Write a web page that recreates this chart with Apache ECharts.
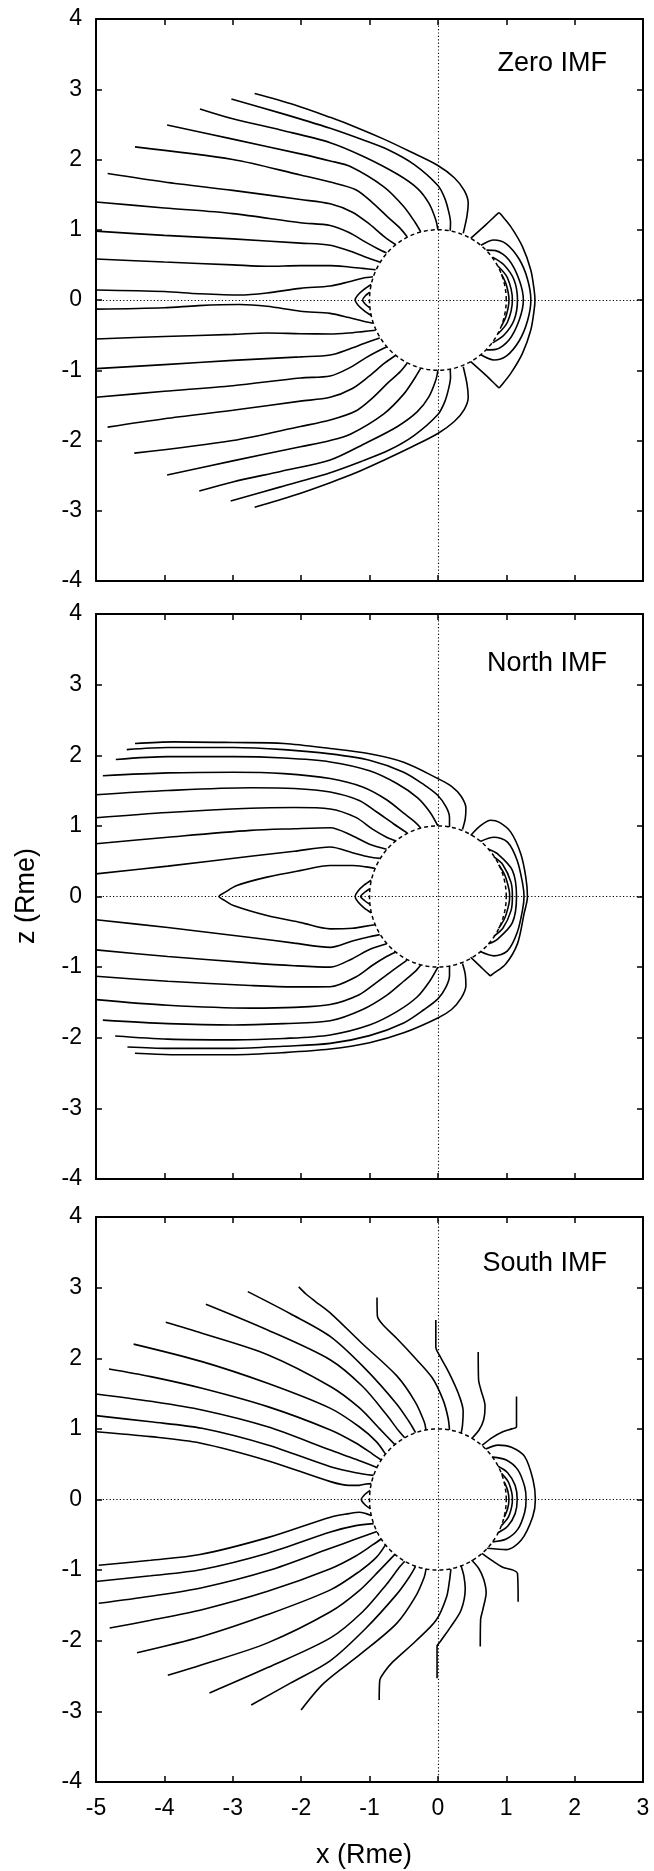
<!DOCTYPE html>
<html>
<head>
<meta charset="utf-8">
<script src="https://cdn.jsdelivr.net/npm/echarts/dist/echarts.min.js"></script>
<style>
  html, body { margin: 0; padding: 0; background: #fff; }
  #chart { width: 654px; height: 1871px; }
</style>
</head>
<body>
<div id="chart"></div>
<script>
// Axis extents and tick labels (Mercury radii)
const xTicks = [-5, -4, -3, -2, -1, 0, 1, 2, 3];
const zTicks = [-4, -3, -2, -1, 0, 1, 2, 3, 4];
const panelTitles = ['Zero IMF', 'North IMF', 'South IMF'];
const planetRadius = 1;

// ---- Zero IMF ----
const zeroTailNorth = [
  [[-2.68,2.94],[-2.1,2.78],[-1.575,2.6],[-1.2,2.46],[-0.79,2.29],[-0.4,2.11],[0,1.915],[0.24,1.74],[0.385,1.56],[0.444,1.38],[0.425,1.19],[0.371,0.95]],
  [[-3.02,2.86],[-2.3,2.66],[-1.575,2.444],[-1.1,2.28],[-0.72,2.135],[-0.35,1.93],[0,1.63],[0.1,1.45],[0.16,1.25],[0.185,1.1],[0.18,0.985]],
  [[-3.48,2.72],[-3.0,2.58],[-2.3,2.42],[-1.575,2.24],[-1.08,2.04],[-0.59,1.79],[-0.3,1.59],[-0.13,1.376],[-0.03,1.14],[0,1.0]],
  [[-3.96,2.49],[-3.0,2.29],[-2.01,2.08],[-1.575,1.98],[-1.28,1.9],[-0.79,1.61],[-0.5,1.33],[-0.33,1.1],[-0.25,0.97]],
  [[-4.43,2.18],[-3.0,2.0],[-2.01,1.78],[-1.575,1.68],[-1.2,1.57],[-0.95,1.38],[-0.72,1.17],[-0.55,1.02],[-0.45,0.9]],
  [[-4.83,1.8],[-4.0,1.68],[-3.0,1.56],[-2.01,1.43],[-1.575,1.37],[-1.25,1.25],[-1.0,1.08],[-0.78,0.9],[-0.62,0.79]],
  [[-5,1.395],[-4,1.31],[-3.0,1.23],[-2.01,1.1],[-1.575,1.06],[-1.3,0.96],[-1.05,0.82],[-0.88,0.73],[-0.75,0.67]],
  [[-5,0.98],[-4,0.92],[-3.0,0.87],[-2.01,0.81],[-1.575,0.78],[-1.3,0.7],[-1.08,0.62],[-0.85,0.54]],
  [[-5,0.584],[-4,0.54],[-3,0.5],[-2.5,0.48],[-2.01,0.49],[-1.575,0.49],[-1.3,0.47],[-1.1,0.45],[-0.91,0.43]],
  [[-5,0.142],[-4,0.12],[-3.5,0.09],[-2.9,0.071],[-2.5,0.1],[-2.01,0.166],[-1.575,0.2],[-1.3,0.26],[-1.1,0.31],[-0.95,0.33]]
];
const zeroTailSouth = [
  [[-2.68,-2.95],[-2.1,-2.78],[-1.575,-2.6],[-1.2,-2.46],[-0.79,-2.28],[-0.4,-2.1],[0,-1.9],[0.24,-1.73],[0.385,-1.56],[0.444,-1.38],[0.425,-1.19],[0.371,-0.95]],
  [[-3.03,-2.86],[-2.3,-2.66],[-1.575,-2.458],[-1.1,-2.29],[-0.72,-2.14],[-0.35,-1.93],[0,-1.63],[0.1,-1.45],[0.16,-1.25],[0.185,-1.1],[0.18,-0.985]],
  [[-3.49,-2.72],[-3.0,-2.59],[-2.3,-2.44],[-1.575,-2.278],[-1.08,-2.05],[-0.59,-1.8],[-0.3,-1.59],[-0.13,-1.376],[-0.03,-1.14],[0,-1.0]],
  [[-3.96,-2.49],[-3.0,-2.29],[-2.01,-2.09],[-1.575,-2.0],[-1.28,-1.91],[-0.79,-1.62],[-0.5,-1.34],[-0.33,-1.1],[-0.25,-0.97]],
  [[-4.44,-2.18],[-3.0,-2.0],[-2.01,-1.8],[-1.575,-1.708],[-1.2,-1.58],[-0.95,-1.39],[-0.72,-1.17],[-0.55,-1.02],[-0.45,-0.9]],
  [[-4.83,-1.81],[-4.0,-1.69],[-3.0,-1.57],[-2.01,-1.44],[-1.575,-1.385],[-1.25,-1.26],[-1.0,-1.08],[-0.78,-0.9],[-0.62,-0.79]],
  [[-5,-1.385],[-4,-1.3],[-3.0,-1.22],[-2.01,-1.11],[-1.575,-1.082],[-1.3,-0.97],[-1.05,-0.82],[-0.88,-0.73],[-0.75,-0.67]],
  [[-5,-0.977],[-4,-0.92],[-3.0,-0.86],[-2.01,-0.81],[-1.575,-0.783],[-1.3,-0.7],[-1.08,-0.62],[-0.85,-0.54]],
  [[-5,-0.555],[-4,-0.52],[-3,-0.49],[-2.5,-0.47],[-2.01,-0.48],[-1.575,-0.484],[-1.3,-0.47],[-1.1,-0.45],[-0.91,-0.43]],
  [[-5,-0.13],[-4,-0.11],[-3.5,-0.08],[-2.9,-0.065],[-2.5,-0.09],[-2.01,-0.16],[-1.575,-0.19],[-1.3,-0.25],[-1.1,-0.3],[-0.95,-0.33]]
];
const zeroDayside = [
  [[0.48,0.878],[0.7,1.07],[0.87,1.225],[0.895,1.243],[0.92,1.22],[1.066,1.044],[1.237,0.759],[1.359,0.427],[1.408,0.142],[1.42,0],[1.408,-0.142],[1.359,-0.427],[1.237,-0.759],[1.066,-1.044],[0.92,-1.225],[0.895,-1.25],[0.87,-1.23],[0.7,-1.07],[0.48,-0.878]],
  [[0.63,0.78],[0.82,0.855],[1.0,0.8],[1.19,0.58],[1.31,0.3],[1.36,0],[1.31,-0.3],[1.19,-0.58],[1.0,-0.8],[0.82,-0.855],[0.63,-0.78]],
  [[0.71,0.71],[0.846,0.703],[1.04,0.57],[1.19,0.285],[1.25,0],[1.19,-0.285],[1.04,-0.57],[0.846,-0.703],[0.71,-0.71]],
  [[0.8,0.61],[0.968,0.498],[1.115,0.285],[1.164,0],[1.115,-0.285],[0.968,-0.498],[0.8,-0.61]],
  [[0.88,0.48],[1.017,0.317],[1.09,0],[1.017,-0.317],[0.88,-0.48]],
  [[0.93,0.37],[1.0,0.22],[1.04,0],[1.0,-0.22],[0.93,-0.37]]
];
const zeroNightLoops = [
  [[-0.975,0.22],[-1.08,0.15],[-1.17,0.07],[-1.21,0],[-1.17,-0.07],[-1.08,-0.15],[-0.975,-0.22]],
  [[-0.995,0.11],[-1.06,0.06],[-1.1,0],[-1.06,-0.06],[-0.995,-0.11]]
];

// ---- North IMF ----
const northTailNorth = [
  [[-4.43,2.166],[-3.87,2.19],[-2.99,2.18],[-2.25,2.166],[-1.575,2.095],[-1.0,2.02],[-0.5,1.9],[0,1.67],[0.2,1.56],[0.34,1.42],[0.41,1.25],[0.4,1.1],[0.36,0.95]],
  [[-4.55,2.08],[-3.95,2.11],[-2.99,2.11],[-2.25,2.08],[-1.575,2.02],[-1.0,1.93],[-0.5,1.76],[-0.2,1.58],[0,1.43],[0.12,1.27],[0.17,1.12],[0.17,0.985]],
  [[-4.71,1.94],[-3.95,1.98],[-2.99,1.98],[-2.25,1.96],[-1.575,1.905],[-1.0,1.78],[-0.6,1.6],[-0.3,1.4],[-0.12,1.2],[0,1.0]],
  [[-4.9,1.71],[-3.95,1.75],[-2.99,1.76],[-2.25,1.74],[-1.575,1.67],[-1.1,1.55],[-0.75,1.37],[-0.5,1.18],[-0.33,1.05],[-0.25,0.97]],
  [[-5,1.44],[-3.95,1.5],[-2.74,1.54],[-2.1,1.53],[-1.575,1.48],[-1.15,1.36],[-0.9,1.2],[-0.65,1.03],[-0.45,0.9]],
  [[-5,1.116],[-3.95,1.19],[-2.74,1.25],[-2.1,1.26],[-1.575,1.24],[-1.2,1.12],[-0.95,0.95],[-0.75,0.84],[-0.62,0.79]],
  [[-5,0.748],[-3.95,0.84],[-2.74,0.936],[-2.1,0.96],[-1.575,0.974],[-1.25,0.86],[-1.0,0.74],[-0.75,0.67]],
  [[-5,0.32],[-3.95,0.43],[-2.74,0.57],[-2.1,0.64],[-1.575,0.7],[-1.25,0.62],[-1.0,0.56],[-0.85,0.54]]
];
const northTailSouth = [
  [[-4.43,-2.22],[-3.9,-2.24],[-2.99,-2.24],[-2.25,-2.21],[-1.575,-2.16],[-1.0,-2.07],[-0.5,-1.93],[0,-1.72],[0.2,-1.6],[0.34,-1.44],[0.41,-1.26],[0.4,-1.1],[0.36,-0.95]],
  [[-4.54,-2.13],[-3.95,-2.15],[-2.99,-2.15],[-2.25,-2.12],[-1.575,-2.08],[-1.0,-1.97],[-0.5,-1.79],[-0.2,-1.6],[0,-1.45],[0.12,-1.28],[0.17,-1.12],[0.17,-0.985]],
  [[-4.72,-1.976],[-3.95,-2.02],[-2.99,-2.03],[-2.25,-2.01],[-1.575,-1.96],[-1.0,-1.82],[-0.6,-1.63],[-0.3,-1.42],[-0.12,-1.2],[0,-1.0]],
  [[-4.9,-1.75],[-3.95,-1.8],[-2.99,-1.82],[-2.25,-1.8],[-1.575,-1.76],[-1.1,-1.6],[-0.75,-1.4],[-0.5,-1.2],[-0.33,-1.06],[-0.25,-0.97]],
  [[-5,-1.46],[-3.95,-1.54],[-2.74,-1.58],[-2.1,-1.57],[-1.575,-1.53],[-1.15,-1.39],[-0.9,-1.22],[-0.65,-1.04],[-0.45,-0.9]],
  [[-5,-1.13],[-3.95,-1.2],[-2.74,-1.26],[-2.1,-1.28],[-1.575,-1.277],[-1.2,-1.14],[-0.95,-0.97],[-0.75,-0.85],[-0.62,-0.79]],
  [[-5,-0.756],[-3.95,-0.85],[-2.74,-0.94],[-2.1,-0.98],[-1.575,-1.0],[-1.25,-0.88],[-1.0,-0.75],[-0.75,-0.67]],
  [[-5,-0.33],[-3.95,-0.44],[-2.74,-0.58],[-2.1,-0.66],[-1.575,-0.72],[-1.25,-0.63],[-1.0,-0.57],[-0.85,-0.54]]
];
const northDayside = [
  [[0.48,0.865],[0.62,1.0],[0.773,1.08],[0.9,1.05],[1.066,0.912],[1.212,0.606],[1.286,0.274],[1.31,0],[1.26,-0.246],[1.163,-0.671],[0.992,-0.955],[0.8,-1.1],[0.772,-1.12],[0.74,-1.1],[0.62,-0.99],[0.479,-0.86]],
  [[0.62,0.78],[0.82,0.84],[1.018,0.77],[1.16,0.51],[1.24,0.18],[1.26,0],[1.24,-0.18],[1.16,-0.51],[1.018,-0.77],[0.82,-0.84],[0.62,-0.78]],
  [[0.74,0.67],[0.87,0.606],[1.09,0.37],[1.15,0],[1.09,-0.37],[0.87,-0.606],[0.74,-0.67]],
  [[0.82,0.56],[0.95,0.45],[1.07,0.2],[1.09,0],[1.07,-0.2],[0.95,-0.45],[0.82,-0.56]],
  [[0.89,0.45],[0.98,0.3],[1.04,0.1],[1.05,0],[1.04,-0.1],[0.98,-0.3],[0.89,-0.45]]
];
const northNightLoops = [
  [[-0.92,0.4],[-1.05,0.42],[-1.25,0.44],[-1.575,0.44],[-2.0,0.37],[-2.5,0.274],[-2.94,0.156],[-3.12,0.055],[-3.2,0],[-3.12,-0.055],[-2.99,-0.128],[-2.5,-0.27],[-2.0,-0.37],[-1.575,-0.458],[-1.25,-0.45],[-1.05,-0.42],[-0.92,-0.4]],
  [[-0.975,0.23],[-1.08,0.16],[-1.17,0.075],[-1.21,0],[-1.17,-0.075],[-1.08,-0.16],[-0.975,-0.23]],
  [[-0.995,0.11],[-1.07,0.06],[-1.13,0],[-1.07,-0.06],[-0.995,-0.11]]
];

// ---- South IMF ----
const southTailNorth = [
  [[-2.035,3.01],[-1.93,2.91],[-1.8,2.81],[-1.571,2.64],[-1.12,2.22],[-0.6,1.75],[-0.33,1.38],[-0.2,1.1],[-0.174,0.985]],
  [[-2.78,2.943],[-2.157,2.63],[-1.571,2.306],[-1.06,1.85],[-0.6,1.35],[-0.42,1.1],[-0.326,0.946]],
  [[-3.393,2.765],[-2.49,2.4],[-1.571,1.976],[-1.1,1.6],[-0.75,1.2],[-0.58,0.98],[-0.485,0.875]],
  [[-3.98,2.51],[-3.45,2.354],[-2.49,2.05],[-1.571,1.6],[-1.15,1.3],[-0.85,1.0],[-0.629,0.777]],
  [[-4.45,2.2],[-3.45,1.952],[-2.49,1.645],[-1.571,1.29],[-1.15,1.03],[-0.9,0.82],[-0.766,0.643]],
  [[-4.81,1.848],[-4.2,1.74],[-3.45,1.575],[-2.49,1.315],[-1.571,0.985],[-1.2,0.8],[-0.95,0.64],[-0.829,0.559]],
  [[-5,1.494],[-4.2,1.39],[-3.45,1.268],[-2.49,1.03],[-1.571,0.7],[-1.2,0.57],[-0.891,0.454]],
  [[-5,1.187],[-4.2,1.1],[-3.45,1.008],[-2.49,0.772],[-1.571,0.465],[-1.2,0.38],[-0.94,0.342]],
  [[-5,0.96],[-4.2,0.89],[-3.48,0.8],[-2.49,0.55],[-1.571,0.253],[-1.3,0.2],[-1.15,0.2],[-1.05,0.22],[-0.974,0.225]]
];
const southTailSouth = [
  [[-2.0,-2.98],[-1.667,-2.6],[-1.119,-2.18],[-0.602,-1.754],[-0.328,-1.376],[-0.2,-1.1],[-0.174,-0.985]],
  [[-2.73,-2.91],[-2.157,-2.6],[-1.571,-2.28],[-1.06,-1.83],[-0.6,-1.34],[-0.42,-1.1],[-0.326,-0.946]],
  [[-3.34,-2.74],[-2.49,-2.38],[-1.571,-1.96],[-1.1,-1.59],[-0.75,-1.2],[-0.58,-0.98],[-0.485,-0.875]],
  [[-3.95,-2.49],[-3.45,-2.34],[-2.49,-2.03],[-1.571,-1.59],[-1.15,-1.29],[-0.85,-1.0],[-0.629,-0.777]],
  [[-4.4,-2.17],[-3.45,-1.94],[-2.49,-1.63],[-1.571,-1.28],[-1.15,-1.02],[-0.9,-0.82],[-0.766,-0.643]],
  [[-4.8,-1.82],[-4.2,-1.71],[-3.45,-1.56],[-2.49,-1.3],[-1.571,-0.98],[-1.2,-0.8],[-0.95,-0.64],[-0.829,-0.559]],
  [[-4.96,-1.47],[-4.2,-1.37],[-3.45,-1.25],[-2.49,-1.01],[-1.571,-0.69],[-1.2,-0.56],[-0.891,-0.454]],
  [[-5,-1.16],[-4.2,-1.08],[-3.45,-0.99],[-2.49,-0.76],[-1.571,-0.46],[-1.2,-0.37],[-0.94,-0.342]],
  [[-4.96,-0.93],[-4.2,-0.86],[-3.48,-0.78],[-2.49,-0.54],[-1.571,-0.25],[-1.3,-0.2],[-1.15,-0.18],[-1.05,-0.2],[-0.974,-0.225]]
];
const southOpen = [
  [[-0.89,2.86],[-0.885,2.6],[-0.8,2.47],[-0.6,2.28],[-0.33,2.0],[-0.08,1.72],[0.08,1.4],[0.15,1.15],[0.17,0.985]],
  [[-0.03,2.54],[-0.03,2.16],[0.03,2.03],[0.16,1.8],[0.3,1.5],[0.37,1.25],[0.36,1.05],[0.34,0.94]],
  [[0.59,2.09],[0.595,1.7],[0.63,1.55],[0.69,1.32],[0.67,1.13],[0.6,0.98],[0.5,0.866]],
  [[1.15,1.46],[1.15,1.03],[1.08,1.0],[0.95,0.96],[0.8,0.88],[0.645,0.765]],
  [[-0.858,-2.84],[-0.85,-2.56],[-0.78,-2.44],[-0.66,-2.3],[-0.33,-2.01],[-0.024,-1.707],[0.128,-1.376],[0.17,-1.15],[0.19,-0.985]],
  [[-0.012,-2.53],[-0.012,-2.08],[0.036,-2.01],[0.19,-1.8],[0.34,-1.565],[0.4,-1.26],[0.38,-1.08],[0.34,-0.94]],
  [[0.62,-2.08],[0.625,-1.7],[0.66,-1.55],[0.706,-1.32],[0.67,-1.13],[0.6,-0.98],[0.493,-0.857]],
  [[1.174,-1.447],[1.165,-1.05],[1.1,-1.0],[0.949,-0.96],[0.8,-0.87],[0.645,-0.762]]
];
const southDayside = [
  [[0.70,0.715],[0.88,0.77],[1.076,0.74],[1.27,0.607],[1.392,0.277],[1.426,0],[1.387,-0.243],[1.22,-0.574],[1.0,-0.71],[0.72,-0.69]],
  [[0.8,0.6],[1.0,0.56],[1.17,0.42],[1.27,0.18],[1.29,0],[1.27,-0.18],[1.17,-0.42],[1.0,-0.56],[0.8,-0.6]],
  [[0.88,0.47],[1.02,0.38],[1.13,0.2],[1.16,0],[1.13,-0.2],[1.02,-0.38],[0.88,-0.47]],
  [[0.93,0.37],[1.03,0.25],[1.08,0.1],[1.09,0],[1.08,-0.1],[1.03,-0.25],[0.93,-0.37]],
  [[0.97,0.25],[1.02,0.13],[1.04,0],[1.02,-0.13],[0.97,-0.25]]
];
const southNightLoops = [
  [[-0.99,0.13],[-1.07,0.07],[-1.12,0],[-1.07,-0.07],[-0.99,-0.13]]
];

const panelLines = [
  [...zeroTailNorth, ...zeroTailSouth, ...zeroDayside, ...zeroNightLoops],
  [...northTailNorth, ...northTailSouth, ...northDayside, ...northNightLoops],
  [...southTailNorth, ...southTailSouth, ...southOpen, ...southDayside, ...southNightLoops]
];

// planet surface outline
function planetOutline(r) {
  const pts = [];
  for (let i = 0; i <= 240; i++) {
    const a = (i / 240) * 2 * Math.PI;
    pts.push([r * Math.cos(a), r * Math.sin(a)]);
  }
  return pts;
}

const FONT = '"Liberation Sans", Arial, Helvetica, sans-serif';
const layout = [
  { top: 19, height: 562, titleY: 64 },
  { top: 614, height: 565, titleY: 664 },
  { top: 1217, height: 565, titleY: 1264 }
];

const grid = [], xAxis = [], yAxis = [], series = [], graphic = [];

layout.forEach((box, i) => {
  grid.push({ left: 96, width: 547, top: box.top, height: box.height, outerBoundsMode: 'none', containLabel: false });
  const axisLine = { show: true, onZero: false, lineStyle: { color: '#000', width: 2 } };
  const axisTick = { show: true, inside: true, length: 6, lineStyle: { color: '#000', width: 1.5 } };
  const xBase = { gridIndex: i, type: 'value', min: xTicks[0], max: xTicks[xTicks.length - 1], interval: 1,
    axisLine, axisTick, splitLine: { show: false } };
  const yBase = { gridIndex: i, type: 'value', min: zTicks[0], max: zTicks[zTicks.length - 1], interval: 1,
    axisLine, axisTick, splitLine: { show: false } };
  xAxis.push(Object.assign({}, xBase, { position: 'bottom',
    axisLabel: { show: i === 2, margin: 15, color: '#000', fontSize: 23, fontFamily: FONT, showMinLabel: true, showMaxLabel: true } }));
  xAxis.push(Object.assign({}, xBase, { position: 'top', axisLabel: { show: false } }));
  yAxis.push(Object.assign({}, yBase, { position: 'left',
    axisLabel: { margin: 14, color: '#000', fontSize: 23, fontFamily: FONT, showMinLabel: true, showMaxLabel: true } }));
  yAxis.push(Object.assign({}, yBase, { position: 'right', axisLabel: { show: false } }));

  // planet outline with the dotted x = 0 and z = 0 reference lines
  series.push({
    type: 'line', xAxisIndex: 2 * i, yAxisIndex: 2 * i,
    data: planetOutline(planetRadius), showSymbol: false, silent: true, animation: false,
    lineStyle: { color: '#000', width: 1.5, type: [4, 3] },
    markLine: {
      silent: true, animation: false, symbol: ['none', 'none'], label: { show: false },
      lineStyle: { color: '#000', width: 1.1, type: [1.2, 2.2] },
      data: [{ xAxis: 0 }, { yAxis: 0 }]
    }
  });

  panelLines[i].forEach(line => {
    series.push({
      type: 'line', xAxisIndex: 2 * i, yAxisIndex: 2 * i,
      data: line, showSymbol: false, smooth: 0.3, silent: true, animation: false,
      lineStyle: { color: '#000', width: 1.6 }
    });
  });

  graphic.push({
    type: 'text', x: 607, y: box.titleY, silent: true,
    style: { text: panelTitles[i], font: '27px ' + FONT, fill: '#000',
      textAlign: 'right', align: 'right', textVerticalAlign: 'middle', verticalAlign: 'middle' }
  });
});

graphic.push({
  type: 'text', x: 364, y: 1856, silent: true,
  style: { text: 'x (Rme)', font: '27px ' + FONT, fill: '#000',
    textAlign: 'center', align: 'center', textVerticalAlign: 'middle', verticalAlign: 'middle' }
});
graphic.push({
  type: 'text', x: 27, y: 896, rotation: Math.PI / 2, silent: true,
  style: { text: 'z (Rme)', font: '27px ' + FONT, fill: '#000',
    textAlign: 'center', align: 'center', textVerticalAlign: 'middle', verticalAlign: 'middle' }
});

const chart = echarts.init(document.getElementById('chart'), null, { renderer: 'canvas' });
chart.setOption({
  animation: false,
  backgroundColor: '#fff',
  grid, xAxis, yAxis, series, graphic
});
</script>
</body>
</html>
